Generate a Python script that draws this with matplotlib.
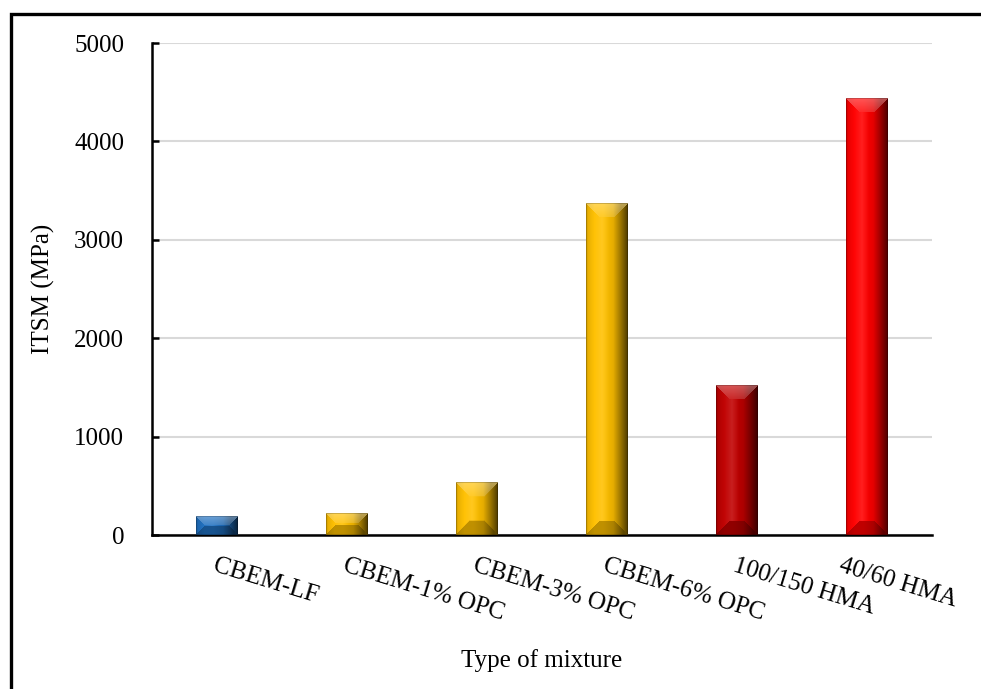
import numpy as np
import matplotlib
matplotlib.use("Agg")
import matplotlib.pyplot as plt
import matplotlib.transforms as mtransforms
from matplotlib.colors import to_rgb
from matplotlib.patches import Rectangle

# ITSM results for each mixture
mixtures = ["CBEM-LF", "CBEM-1% OPC", "CBEM-3% OPC", "CBEM-6% OPC", "100/150 HMA", "40/60 HMA"]
itsm_mpa = [190, 220, 530, 3370, 1520, 4440]
bar_colors = ["#1f6fbf", "#ffc000", "#ffc000", "#ffc000", "#c00000", "#ff0000"]
y_ticks = [0, 1000, 2000, 3000, 4000, 5000]

plt.rcParams["font.family"] = ["Liberation Serif", "DejaVu Serif"]

W_PX, H_PX, DPI = 981, 689, 100
fig = plt.figure(figsize=(W_PX / DPI, H_PX / DPI), dpi=DPI)

# outer frame of the figure
fig.patches.append(Rectangle((10.5 / W_PX, -0.1), 1.2, (H_PX - 13.5) / H_PX + 0.1,
                             transform=fig.transFigure, fill=False,
                             edgecolor="black", linewidth=2.4, zorder=10))

ax_l, ax_r, ax_t, ax_b = 152, 932, 43, 535
ax = fig.add_axes([ax_l / W_PX, (H_PX - ax_b) / H_PX,
                   (ax_r - ax_l) / W_PX, (ax_b - ax_t) / H_PX])

x = np.arange(len(mixtures))
bw = 0.32
bars = ax.bar(x, itsm_mpa, width=bw, color=bar_colors, zorder=3)

ax.set_xlim(-0.5, len(mixtures) - 0.5)
ax.set_ylim(0, 5000)
ax.set_yticks(y_ticks)
ax.yaxis.grid(True, color="#d9d9d9", linewidth=1.5, zorder=0)
ax.set_axisbelow(True)
for s in ("top", "right"):
    ax.spines[s].set_visible(False)
for s in ("left", "bottom"):
    ax.spines[s].set_linewidth(1.8)
ax.tick_params(axis="y", direction="in", length=5, width=1.8, labelsize=18, pad=20)
ax.tick_params(axis="x", length=0, labelsize=18, pad=14)
ax.set_xticks(x)
ax.set_xticklabels(mixtures, rotation=-17, ha="left", va="top", rotation_mode="anchor")
# keep the last category label inside the frame
last = ax.get_xticklabels()[-1]
last.set_transform(last.get_transform() +
                   mtransforms.ScaledTranslation(-0.24, 0, fig.dpi_scale_trans))
ax.set_ylabel("ITSM (MPa)", fontsize=18, labelpad=14)
ax.set_xlabel("Type of mixture", fontsize=18, labelpad=18)


# bevelled face drawn as an image over each bar
fig.canvas.draw()
white = np.ones(3)
for rect, col in zip(bars, bar_colors):
    x0, y0 = rect.get_x(), rect.get_y()
    x1, y1 = x0 + rect.get_width(), y0 + rect.get_height()
    (px0, py0), (px1, py1) = ax.transData.transform([(x0, y0), (x1, y1)])
    Wp = max(int(round(px1 - px0)), 2)
    Hp = max(int(round(py1 - py0)), 2)
    base = np.array(to_rgb(col))
    b = min(14.0, Hp / 2.2)
    U, V = np.meshgrid(np.arange(Wp) + 0.5, np.arange(Hp) + 0.5)
    dl, dr, dt, db = U, Wp - U, V, Hp - V
    dmin = np.minimum(np.minimum(dl, dr), np.minimum(dt, db))
    f = U / Wp
    # brightness across the bar width
    k = np.interp(f, [0, 0.06, 0.2, 0.42, 0.65, 0.82, 1.0],
                     [0.80, 0.92, 1.0, 1.0, 0.90, 0.62, 0.30])
    hl = np.interp(f, [0, 0.2, 0.38, 0.55, 1.0], [0, 0.02, 0.12, 0.0, 0])
    img = base * k[..., None]
    img = img * (1 - hl[..., None]) + white * hl[..., None]
    region_top = (dt == dmin) & (dmin < b)
    region_bot = (db == dmin) & (dmin < b) & ~region_top
    # top bevel: lighter, brightest along the upper edge
    tt = 0.34 - 0.18 * (dt / b)
    top = base * np.clip(k, 0.6, 1.0)[..., None]
    top = top * (1 - tt[..., None]) + white * tt[..., None]
    img[region_top] = top[region_top]
    # bottom bevel: darker
    bot = base * (0.75 * np.clip(k, 0.5, 1.0))[..., None]
    img[region_bot] = bot[region_bot]
    edge = dmin < 1.0
    img[edge] = img[edge] * 0.8
    ax.imshow(np.clip(img, 0, 1), extent=(x0, x1, y0, y1), origin="upper",
              aspect="auto", interpolation="bilinear", zorder=4)

ax.set_xlim(-0.5, len(mixtures) - 0.5)
ax.set_ylim(0, 5000)

fig.savefig("out.png", dpi=DPI)
